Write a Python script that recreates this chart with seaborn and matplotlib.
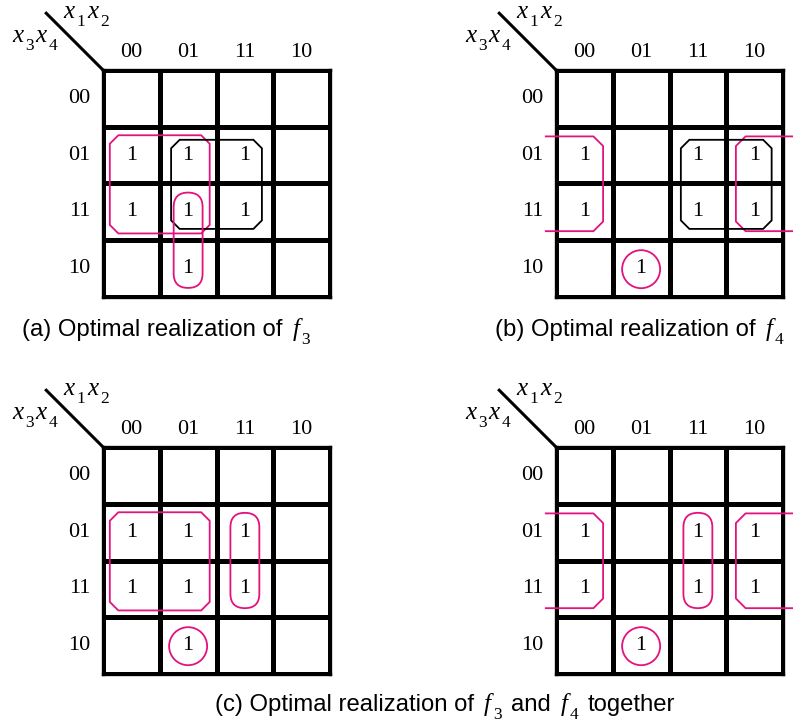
import matplotlib.pyplot as plt
import seaborn as sns
import pandas as pd
from matplotlib.colors import ListedColormap
from matplotlib.patches import Polygon, FancyBboxPatch, Circle
from matplotlib.transforms import IdentityTransform

# Karnaugh maps: rows are x3x4, columns are x1x2
col_labels = ["00", "01", "11", "10"]
row_labels = ["00", "01", "11", "10"]

f3 = [[0, 0, 0, 0],
      [1, 1, 1, 0],
      [1, 1, 1, 0],
      [0, 1, 0, 0]]

f4 = [[0, 0, 0, 0],
      [1, 0, 1, 1],
      [1, 0, 1, 1],
      [0, 1, 0, 0]]

# groupings: (shape, first col, last col, first row, last row, colour)
groups_a = [("box", 0, 1, 1, 2, "pink"),
            ("box", 1, 2, 1, 2, "black"),
            ("pill", 1, 1, 2, 3, "pink")]
groups_b = [("wrap", 3, 0, 1, 2, "pink"),
            ("box", 2, 3, 1, 2, "black"),
            ("circle", 1, 1, 3, 3, "pink")]
groups_c = [("box", 0, 1, 1, 2, "pink"),
            ("pill", 2, 2, 1, 2, "pink"),
            ("circle", 1, 1, 3, 3, "pink")]
groups_d = [("wrap", 3, 0, 1, 2, "pink"),
            ("pill", 2, 2, 1, 2, "pink"),
            ("circle", 1, 1, 3, 3, "pink")]

# caption pieces: (text, kind)
caption_a = [("(a) Optimal realization of", "sans"), ("f", "var"), ("3", "sub")]
caption_b = [("(b) Optimal realization of", "sans"), ("f", "var"), ("4", "sub")]
caption_c = [("(c) Optimal realization of", "sans"), ("f", "var"), ("3", "sub"),
             ("and", "sans"), ("f", "var"), ("4", "sub"), ("together", "sans")]

W, H = 793, 724
PINK = "#e2127f"
SERIF = "Liberation Serif"
SANS = "Liberation Sans"

fig = plt.figure(figsize=(W / 100, H / 100), dpi=100)
fig.patch.set_facecolor("white")
renderer = fig.canvas.get_renderer()

styles = {
    "sans": dict(family=SANS, fontsize=17.2, style="normal", dy=0),
    "var": dict(family=SERIF, fontsize=18, style="italic", dy=0),
    "sub": dict(family=SERIF, fontsize=12.5, style="normal", dy=8),
}
gaps = {("sans", "var"): 10, ("var", "sub"): 2, ("sub", "sans"): 9,
        ("sub", "var"): 2}


def put_pieces(x, y, pieces):
    # x, y in image pixels measured from the top-left corner
    prev = None
    for s, kind in pieces:
        st = styles[kind]
        if prev is not None:
            x += gaps.get((prev, kind), 5)
        t = fig.text(x, H - (y + st["dy"]), s, transform=IdentityTransform(),
                     family=st["family"], fontsize=st["fontsize"],
                     style=st["style"], ha="left", va="baseline")
        x = t.get_window_extent(renderer).x1
        prev = kind


def chamfer(ax, x0, x1, y0, y1, c, color):
    pts = [(x0 + c, y0), (x1 - c, y0), (x1, y0 + c), (x1, y1 - c),
           (x1 - c, y1), (x0 + c, y1), (x0, y1 - c), (x0, y0 + c)]
    ax.add_patch(Polygon(pts, closed=True, fill=False, edgecolor=color,
                         lw=1.3, clip_on=False, zorder=5))


def draw_group(ax, g):
    shape, c0, c1, r0, r1, col = g
    color = PINK if col == "pink" else "black"
    if shape == "box":
        ins = 0.12 if col == "pink" else 0.2
        chamfer(ax, c0 + ins, c1 + 1 - ins, r0 + ins + 0.03, r1 + 1 - ins, 0.15, color)
    elif shape == "pill":
        x0, x1 = c0 + 0.245, c0 + 0.755
        y0, y1 = r0 + 0.16, r1 + 1 - 0.16
        r = (x1 - x0) / 2
        ax.add_patch(FancyBboxPatch((x0, y0), x1 - x0, y1 - y0,
                                    boxstyle="round,pad=0,rounding_size=%.3f" % r,
                                    fill=False, edgecolor=color, lw=1.3,
                                    clip_on=False, zorder=5))
    elif shape == "circle":
        ax.add_patch(Circle((c0 + 0.5, r0 + 0.51), 0.335, fill=False,
                            edgecolor=color, lw=1.3, clip_on=False, zorder=5))
    elif shape == "wrap":
        y0, y1, c = r0 + 0.17, r1 + 1 - 0.16, 0.17
        xl = c1 + 0.83
        ax.plot([-0.18, xl - c, xl, xl, xl - c, -0.18],
                [y0, y0, y0 + c, y1 - c, y1, y1],
                color=color, lw=1.3, clip_on=False, zorder=5)
        xr = c0 + 0.17
        ax.plot([4.25, xr + c, xr, xr, xr + c, 4.25],
                [y0, y0, y0 + c, y1 - c, y1, y1],
                color=color, lw=1.3, clip_on=False, zorder=5)


def draw_map(left, top, values, groups):
    size = 227
    ax = fig.add_axes([left / W, 1 - (top + size) / H, size / W, size / H])
    df = pd.DataFrame(values, index=row_labels, columns=col_labels)
    annot = df.map(lambda v: "1" if v else "")
    sns.heatmap(df, ax=ax, cmap=ListedColormap(["white"]), cbar=False,
                annot=annot, fmt="", linewidths=2.4, linecolor="black",
                annot_kws={"fontsize": 16, "family": SERIF, "color": "black"})
    for sp in ax.spines.values():
        sp.set_visible(True)
        sp.set_linewidth(2.4)
        sp.set_color("black")
    ax.xaxis.tick_top()
    ax.set_xticklabels(col_labels, fontsize=16, family=SERIF, color="black")
    ax.set_yticklabels(row_labels, fontsize=16, family=SERIF, color="black",
                       rotation=0)
    ax.tick_params(axis="both", length=0)
    ax.tick_params(axis="x", pad=6)
    ax.tick_params(axis="y", pad=9)
    ax.set_xlabel("")
    ax.set_ylabel("")

    # corner diagonal
    ax.plot([0, -1.0], [0, -1.0], color="black", lw=2.2, clip_on=False)
    for g in groups:
        draw_group(ax, g)

    # variable labels x1x2 and x3x4
    put_pieces(left - 40, top - 52, [("x", "var"), ("1", "sub"), ("x", "var"), ("2", "sub")])
    put_pieces(left - 91, top - 28, [("x", "var"), ("3", "sub"), ("x", "var"), ("4", "sub")])
    return ax


draw_map(103, 70, f3, groups_a)
draw_map(556, 70, f4, groups_b)
draw_map(103, 447, f3, groups_c)
draw_map(556, 447, f4, groups_d)

put_pieces(22, 336, caption_a)
put_pieces(495, 336, caption_b)
put_pieces(215, 711, caption_c)

fig.savefig("out.png", dpi=100)
